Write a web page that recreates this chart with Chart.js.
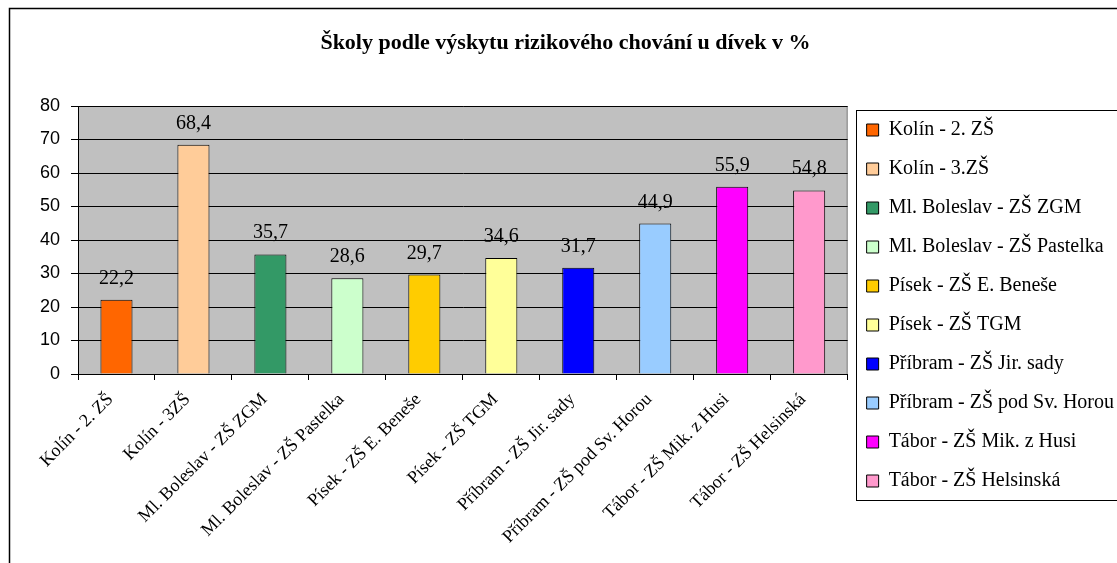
<!DOCTYPE html>
<html>
<head>
<meta charset="utf-8">
<script src="https://cdn.jsdelivr.net/npm/chart.js@4.4.0/dist/chart.umd.min.js"></script>
<style>
  html, body { margin: 0; padding: 0; background: #fff; overflow: hidden; }
  canvas { display: block; }
</style>
</head>
<body>
<canvas id="chart" width="1117" height="563"></canvas>
<script>
// chart data
var title_text = "Školy podle výskytu rizikového chování u dívek v %";
var schools = ["Kolín - 2. ZŠ", "Kolín - 3ZŠ", "Ml. Boleslav - ZŠ ZGM", "Ml. Boleslav - ZŠ Pastelka",
               "Písek - ZŠ E. Beneše", "Písek - ZŠ TGM", "Příbram - ZŠ Jir. sady",
               "Příbram - ZŠ pod Sv. Horou", "Tábor - ZŠ Mik. z Husi", "Tábor - ZŠ Helsinská"];
var legend_names = ["Kolín - 2. ZŠ", "Kolín - 3.ZŠ", "Ml. Boleslav - ZŠ ZGM", "Ml. Boleslav - ZŠ Pastelka",
                    "Písek - ZŠ E. Beneše", "Písek - ZŠ TGM", "Příbram - ZŠ Jir. sady",
                    "Příbram - ZŠ pod Sv. Horou", "Tábor - ZŠ Mik. z Husi", "Tábor - ZŠ Helsinská"];
var values = [22.2, 68.4, 35.7, 28.6, 29.7, 34.6, 31.7, 44.9, 55.9, 54.8];
var bar_colors = ["#FF6600", "#FFCC99", "#339966", "#CCFFCC", "#FFCC00",
                  "#FFFF99", "#0000FF", "#99CCFF", "#FF00FF", "#FF99CC"];
var y_min = 0;
var y_max = 80;
var y_step = 10;

var serif = '"Liberation Serif", "Times New Roman", serif';
var sans = '"Liberation Sans", Arial, sans-serif';

// white page, outer frame and grey plot area
var background_plugin = {
    id: "background",
    beforeDraw: function(chart) {
        var ctx = chart.ctx;
        var a = chart.chartArea;
        ctx.save();
        ctx.fillStyle = "#fff";
        ctx.fillRect(0, 0, chart.width, chart.height);
        ctx.strokeStyle = "#000";
        ctx.lineWidth = 1.5;
        ctx.strokeRect(9.5, 8.5, chart.width + 20, chart.height + 20);
        ctx.fillStyle = "#c0c0c0";
        ctx.fillRect(a.left, a.top, a.right - a.left, a.bottom - a.top);
        ctx.strokeStyle = "#808080";
        ctx.lineWidth = 1;
        ctx.strokeRect(a.left + 0.5, a.top + 0.5, a.right - a.left - 1, a.bottom - a.top);
        ctx.restore();
    }
};

// value labels above the bars
var value_labels_plugin = {
    id: "value_labels",
    afterDatasetsDraw: function(chart) {
        var ctx = chart.ctx;
        var meta = chart.getDatasetMeta(0);
        ctx.save();
        ctx.font = "20px " + serif;
        ctx.fillStyle = "#000";
        ctx.textAlign = "center";
        ctx.textBaseline = "alphabetic";
        meta.data.forEach(function(bar, i) {
            ctx.fillText(values[i].toFixed(1).replace(".", ","), bar.x, bar.y - 16);
        });
        ctx.restore();
    }
};

// border around the legend
var legend_box_plugin = {
    id: "legend_box",
    afterDraw: function(chart) {
        var boxes = chart.legend.legendHitBoxes;
        if (!boxes || !boxes.length) return;
        var first = boxes[0];
        var last = boxes[boxes.length - 1];
        var ctx = chart.ctx;
        var left = Math.round(first.left - 11) + 0.5;
        var top = Math.round(first.top - 10) + 0.5;
        var bottom = Math.round(last.top + last.height + 9) + 0.5;
        ctx.save();
        ctx.strokeStyle = "#000";
        ctx.lineWidth = 1;
        ctx.strokeRect(left, top, chart.width + 20 - left, bottom - top);
        ctx.restore();
    }
};

var chart = new Chart(document.getElementById("chart"), {
    type: "bar",
    data: {
        labels: schools,
        datasets: [{
            data: values,
            backgroundColor: bar_colors,
            borderColor: "#000",
            borderWidth: 1,
            barPercentage: 0.4167,
            categoryPercentage: 1
        }]
    },
    options: {
        responsive: false,
        animation: false,
        layout: { padding: { left: 7, right: -7, top: 10, bottom: 0 } },
        plugins: {
            title: {
                display: true,
                text: title_text,
                color: "#000",
                font: { family: serif, size: 22, weight: "bold", lineHeight: 1.2 },
                padding: { top: 20, bottom: 49.6 }
            },
            legend: {
                position: "right",
                align: "start",
                title: { display: true, text: "", font: { size: 10, lineHeight: 1 }, padding: { top: 81, bottom: 0 } },
                labels: {
                    boxWidth: 12,
                    boxHeight: 12,
                    padding: 19,
                    color: "#000",
                    font: { family: serif, size: 20 },
                    generateLabels: function() {
                        return legend_names.map(function(name, i) {
                            return { text: name, fillStyle: bar_colors[i], strokeStyle: "#000",
                                     lineWidth: 1, hidden: false, index: i, fontColor: "#000" };
                        });
                    }
                }
            },
            tooltip: { enabled: false }
        },
        scales: {
            x: {
                grid: { display: true, drawOnChartArea: false, drawTicks: true, tickLength: 6, color: "#000", offset: true },
                border: { color: "#000", width: 1 },
                ticks: { color: "#000", font: { family: serif, size: 18 }, minRotation: 45, maxRotation: 45, autoSkip: false, padding: 9, labelOffset: -6 },
                afterFit: function(scale) { scale.height = 189; }
            },
            y: {
                min: y_min,
                max: y_max,
                ticks: { stepSize: y_step, color: "#000", font: { family: sans, size: 18 }, padding: 11 },
                grid: { color: "#000", tickLength: 7 },
                border: { color: "#000", width: 1 },
                afterFit: function(scale) { scale.width = 71; }
            }
        }
    },
    plugins: [background_plugin, value_labels_plugin, legend_box_plugin]
});
</script>
</body>
</html>
